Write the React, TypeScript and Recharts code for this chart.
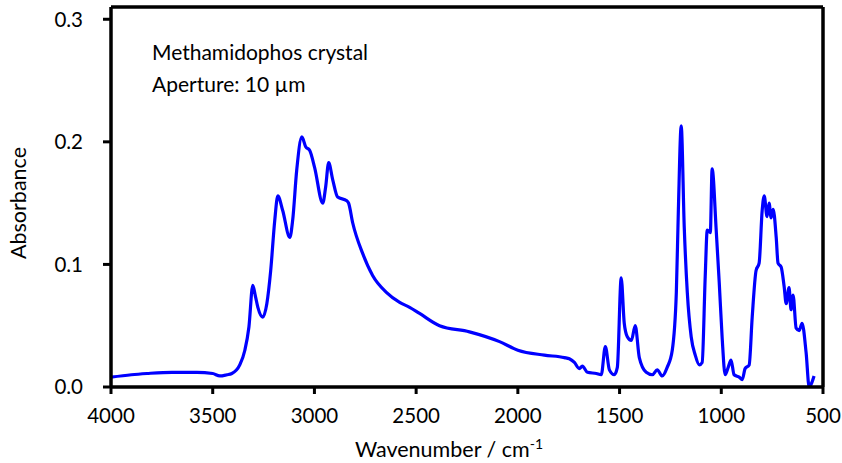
import React from 'react';
import { LineChart, Line, XAxis, YAxis, ReferenceLine } from 'recharts';

const wavenumbers = [
  4000, 3900, 3823, 3700, 3578, 3500, 3465, 3430, 3406, 3367, 3342, 3322, 3303, 3290, 3278, 3254,
  3234, 3215, 3195, 3180, 3156, 3121, 3107, 3087, 3062, 3043, 3023, 2999, 2959, 2945, 2930, 2910,
  2886, 2841, 2832, 2812, 2763, 2714, 2645, 2581, 2532, 2483, 2385, 2238, 2090, 2000, 1870, 1771,
  1747, 1722, 1698, 1683, 1658, 1614, 1590, 1570, 1550, 1526, 1511, 1492, 1477, 1462, 1442, 1423,
  1403, 1369, 1339, 1315, 1290, 1266, 1241, 1221, 1211, 1197, 1182, 1167, 1148, 1128, 1108, 1094,
  1079, 1069, 1054, 1045, 1025, 1010, 996, 981, 966, 952, 937, 912, 897, 883, 863, 848, 829, 814,
  799, 789, 775, 765, 755, 745, 730, 721, 706, 691, 681, 667, 657, 647, 632, 617, 603, 583, 568,
  559, 544,
];

const absorbance = [
  0.008, 0.010, 0.011, 0.012, 0.012, 0.011, 0.009, 0.010, 0.011, 0.018, 0.030, 0.049, 0.083, 0.074, 0.065, 0.057,
  0.068, 0.095, 0.136, 0.156, 0.144, 0.122, 0.136, 0.177, 0.204, 0.196, 0.193, 0.179, 0.150, 0.163, 0.183, 0.169,
  0.155, 0.152, 0.150, 0.134, 0.109, 0.091, 0.077, 0.069, 0.065, 0.060, 0.050, 0.045, 0.037, 0.030, 0.026, 0.024,
  0.023, 0.020, 0.015, 0.017, 0.012, 0.011, 0.010, 0.033, 0.014, 0.010, 0.016, 0.089, 0.052, 0.041, 0.038, 0.050,
  0.024, 0.012, 0.010, 0.014, 0.009, 0.016, 0.030, 0.077, 0.144, 0.213, 0.130, 0.077, 0.041, 0.026, 0.018, 0.020,
  0.090, 0.128, 0.126, 0.178, 0.128, 0.085, 0.041, 0.010, 0.016, 0.022, 0.010, 0.008, 0.006, 0.015, 0.018, 0.057, 0.095, 0.101,
  0.144, 0.156, 0.139, 0.150, 0.138, 0.145, 0.122, 0.101, 0.098, 0.082, 0.068, 0.081, 0.063, 0.075, 0.048, 0.046, 0.052, 0.028, 0.000,
  0.002, 0.009,
];

const xTicks = [4000, 3500, 3000, 2500, 2000, 1500, 1000, 500];
const yTicks = [0, 0.1, 0.2, 0.3];
const annotationLines = ['Methamidophos crystal', 'Aperture: 10 µm'];

const data = wavenumbers.map((w, i) => ({ w, a: absorbance[i] }));

const FONT = 'Lato, "Open Sans", sans-serif';

const XLabel = () => (
  <text x={449} y={457} textAnchor="middle" fontFamily={FONT} fontSize={21.5} fill="#000">
    Wavenumber / cm
    <tspan fontSize={14} dy={-8}>-1</tspan>
  </text>
);

const YLabel = () => (
  <text
    x={26}
    y={203}
    textAnchor="middle"
    fontFamily={FONT}
    fontSize={21.5}
    fill="#000"
    transform="rotate(-90, 26, 203)"
  >
    Absorbance
  </text>
);

export default function App() {
  return (
    <div style={{ position: 'absolute', left: 0, top: 0, width: 842, height: 463, background: '#fff' }}>
      <LineChart width={842} height={463} data={data} margin={{ top: 7, right: 19, left: 0, bottom: 0 }}>
        <XAxis
          dataKey="w"
          type="number"
          domain={[500, 4000]}
          reversed
          ticks={xTicks}
          interval={0}
          height={76}
          axisLine={{ stroke: '#000', strokeWidth: 3.5 }}
          tickLine={{ stroke: '#000', strokeWidth: 3 }}
          tickSize={7}
          tickMargin={14}
          tick={{ fill: '#000', fontSize: 20.5, fontFamily: FONT }}
          label={<XLabel />}
        />
        <YAxis
          type="number"
          domain={[0, 0.31]}
          ticks={yTicks}
          interval={0}
          width={111}
          allowDataOverflow
          axisLine={{ stroke: '#000', strokeWidth: 3.5 }}
          tickLine={{ stroke: '#000', strokeWidth: 3 }}
          tickSize={8}
          tickMargin={20}
          tickFormatter={(v: number) => v.toFixed(1)}
          tick={{ fill: '#000', fontSize: 20.5, fontFamily: FONT }}
          label={<YLabel />}
        />
        <ReferenceLine y={0.31} stroke="#000" strokeWidth={3.5} ifOverflow="extendDomain" />
        <ReferenceLine x={500} stroke="#000" strokeWidth={3.5} ifOverflow="extendDomain" />
        <Line
          type="monotone"
          dataKey="a"
          stroke="#0000FF"
          strokeWidth={3.2}
          dot={false}
          isAnimationActive={false}
        />
      </LineChart>
      <svg
        width={842}
        height={463}
        style={{ position: 'absolute', left: 0, top: 0, pointerEvents: 'none' }}
      >
        {annotationLines.map((t, i) => (
          <text key={i} x={152} y={60 + i * 32} fontFamily={FONT} fontSize={21} fill="#000">
            {t}
          </text>
        ))}
      </svg>
    </div>
  );
}
